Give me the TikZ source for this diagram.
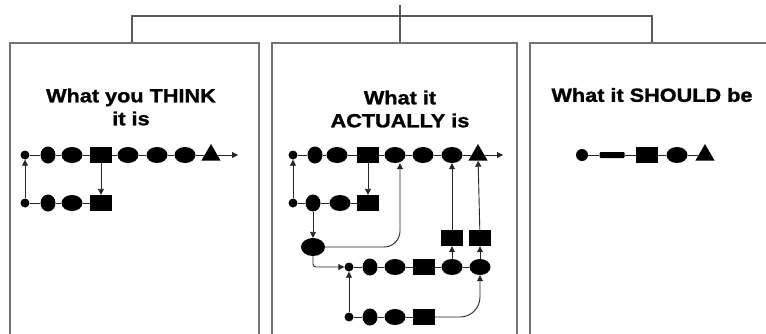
\documentclass[tikz,border=0pt]{standalone}
\usepackage{fontspec}
\setmainfont{Liberation Sans}
\newfontfamily\headfont[FakeBold=1.4,FakeStretch=1.14]{Liberation Sans Bold}
\usetikzlibrary{shapes.geometric,arrows.meta}
\begin{document}
\begin{tikzpicture}[x=1pt,y=-1pt,
  frame/.style={draw=black!55,line width=1.6pt},
  bracket/.style={draw=black!65,line width=1.1pt},
  link/.style={draw=black!85,line width=0.9pt},
  arr/.style={link,-{Triangle[length=6pt,width=6pt]}},
  ttl/.style={font=\headfont\fontsize{19}{23}\selectfont,align=center,inner sep=0},
  dotn/.style={circle,fill=black,inner sep=0,minimum size=9pt},
  rnd/.style={ellipse,fill=black,inner sep=0,minimum width=15pt,minimum height=17pt},
  ell/.style={ellipse,fill=black,inner sep=0,minimum width=21pt,minimum height=16pt},
  sq/.style={rectangle,fill=black,inner sep=0,minimum width=22pt,minimum height=16pt},
  tri/.style={regular polygon,regular polygon sides=3,fill=black,inner sep=0,minimum size=22pt},
  bar/.style={rectangle,fill=black,inner sep=0,minimum width=25pt,minimum height=6pt,rounded corners=1pt},
]
\useasboundingbox (0,0) rectangle (766,333);
\clip (0,0) rectangle (766,333);

% top bracket
\coordinate (top) at (400,5);
\coordinate (bl) at (132,43);
\coordinate (bm) at (400,43);
\coordinate (br) at (652,43);
\draw[bracket] (top) -- (bm);
\draw[bracket] (bl) -- (132,16) -- (652,16) -- (br);

% panel frames (open at the bottom)
\draw[frame] (10,340) -- (10,43) -- (259,43) -- (259,340);
\draw[frame] (272,340) -- (272,43) -- (517,43) -- (517,340);
\draw[frame] (530,340) -- (530,43) -- (780,43) -- (780,340);

% ---------- panel 1 ----------
\node[ttl] (t1) at (131,107) {What you THINK\\it is};
\node[dotn] (p1) at (25,155) {};
\node[rnd]  (p2) at (48,155) {};
\node[ell]  (p3) at (72,155) {};
\node[sq]   (p4) at (101,155) {};
\node[ell]  (p5) at (128,155) {};
\node[ell]  (p6) at (157,155) {};
\node[ell]  (p7) at (185,155) {};
\node[tri]  (p8) at (211,155) {};
\coordinate (pend) at (238,155);
\draw[link] (p1) -- (p2) -- (p3) -- (p4) -- (p5) -- (p6) -- (p7) -- (p8);
\draw[arr] (p8) -- (pend);

\node[dotn] (q1) at (25,203) {};
\node[rnd]  (q2) at (48,203) {};
\node[ell]  (q3) at (72,203) {};
\node[sq]   (q4) at (101,203) {};
\draw[link] (q1) -- (q2) -- (q3) -- (q4);
\draw[arr] (q1) -- (p1);
\draw[arr] (p4) -- (q4);

% ---------- panel 2 ----------
\node[ttl] (t2) at (400,109) {What it\\ACTUALLY is};
\node[dotn] (a1) at (293,155) {};
\node[rnd]  (a2) at (315,155) {};
\node[ell]  (a3) at (337,155) {};
\node[sq]   (a4) at (368,155) {};
\node[ell]  (a5) at (395,155) {};
\node[ell]  (a6) at (423,155) {};
\node[ell]  (a7) at (452,155) {};
\node[tri]  (a8) at (478,155) {};
\coordinate (aend) at (503,155);
\draw[link] (a1) -- (a2) -- (a3) -- (a4) -- (a5) -- (a6) -- (a7) -- (a8);
\draw[arr] (a8) -- (aend);

\node[dotn] (b1) at (293,203) {};
\node[rnd]  (b2) at (313,203) {};
\node[ell]  (b3) at (340,203) {};
\node[sq]   (b4) at (368,203) {};
\draw[link] (b1) -- (b2) -- (b3) -- (b4);
\draw[arr] (b1) -- (a1);
\draw[arr] (a4) -- (b4);

\node[ell,minimum width=24pt,minimum height=18pt] (c1) at (313,247) {};
\draw[arr] (b2) -- (c1);
\draw[arr,rounded corners=16pt] (c1.east) -| ([xshift=5pt]a5.south);

\node[dotn] (d1) at (349,267) {};
\node[rnd]  (d2) at (370,267) {};
\node[ell]  (d3) at (395,267) {};
\node[sq]   (d4) at (424,267) {};
\node[ell]  (d5) at (452,267) {};
\node[ell]  (d6) at (480,267) {};
\draw[link] (d1) -- (d2) -- (d3) -- (d4) -- (d5) -- (d6);
\draw[arr,rounded corners=3pt] (c1.south) |- (d1.west);

\node[sq] (s1) at (452,238) {};
\node[sq] (s2) at (480,238) {};
\draw[arr] (d5) -- (s1);
\draw[arr] (d6) -- (s2);
\draw[arr] (s1) -- (a7);
\draw[arr] (s2) -- (a8);

\node[dotn] (f1) at (349,317) {};
\node[rnd]  (f2) at (370,317) {};
\node[ell]  (f3) at (395,317) {};
\node[sq]   (f4) at (424,317) {};
\draw[link] (f1) -- (f2) -- (f3) -- (f4);
\draw[arr] (f1) -- (d1);
\draw[arr,rounded corners=20pt] (f4.east) -| (d6.south);

% ---------- panel 3 ----------
\node[ttl] (t3) at (652,95) {What it SHOULD be};
\node[dotn,minimum size=12pt] (g1) at (582,155) {};
\node[bar] (g2) at (612,155) {};
\node[sq]  (g3) at (647,155) {};
\node[ell] (g4) at (677,155) {};
\node[tri] (g5) at (705,155) {};
\draw[link] (g1) -- (g2) -- (g3) -- (g4) -- (g5);
\end{tikzpicture}
\end{document}
